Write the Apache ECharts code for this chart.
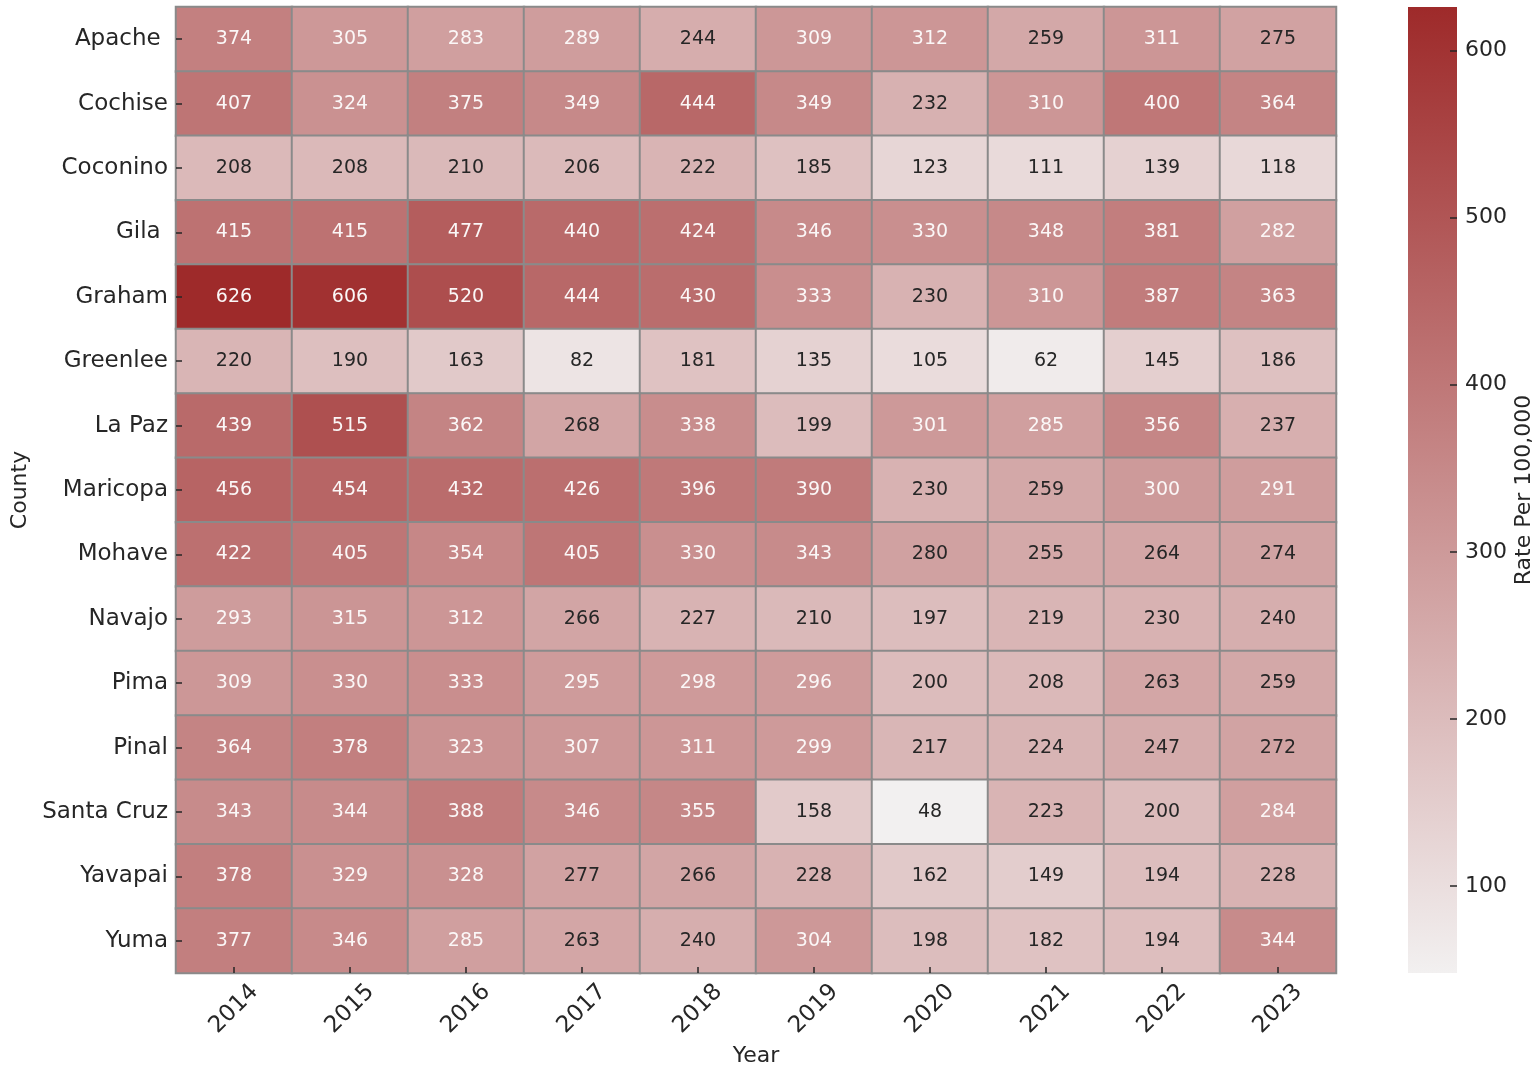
<!DOCTYPE html>
<html>
<head>
<meta charset="utf-8">
<title>County Rate Per 100,000 by Year</title>
<script src="https://cdn.jsdelivr.net/npm/echarts@6/dist/echarts.min.js"></script>
<style>
  html, body { margin: 0; padding: 0; background: #ffffff; }
  #chart { width: 1538px; height: 1069px; }
</style>
</head>
<body>
<div id="chart"></div>
<script>
// Year columns and county rows
const years = ['2014', '2015', '2016', '2017', '2018', '2019', '2020', '2021', '2022', '2023'];
const counties = ['Apache ', 'Cochise', 'Coconino', 'Gila ', 'Graham', 'Greenlee', 'La Paz', 'Maricopa',
  'Mohave', 'Navajo', 'Pima', 'Pinal', 'Santa Cruz', 'Yavapai', 'Yuma'];

// Rate per 100,000, one array per county (2014 -> 2023)
const apache    = [374, 305, 283, 289, 244, 309, 312, 259, 311, 275];
const cochise   = [407, 324, 375, 349, 444, 349, 232, 310, 400, 364];
const coconino  = [208, 208, 210, 206, 222, 185, 123, 111, 139, 118];
const gila      = [415, 415, 477, 440, 424, 346, 330, 348, 381, 282];
const graham    = [626, 606, 520, 444, 430, 333, 230, 310, 387, 363];
const greenlee  = [220, 190, 163, 82, 181, 135, 105, 62, 145, 186];
const laPaz     = [439, 515, 362, 268, 338, 199, 301, 285, 356, 237];
const maricopa  = [456, 454, 432, 426, 396, 390, 230, 259, 300, 291];
const mohave    = [422, 405, 354, 405, 330, 343, 280, 255, 264, 274];
const navajo    = [293, 315, 312, 266, 227, 210, 197, 219, 230, 240];
const pima      = [309, 330, 333, 295, 298, 296, 200, 208, 263, 259];
const pinal     = [364, 378, 323, 307, 311, 299, 217, 224, 247, 272];
const santaCruz = [343, 344, 388, 346, 355, 158, 48, 223, 200, 284];
const yavapai   = [378, 329, 328, 277, 266, 228, 162, 149, 194, 228];
const yuma      = [377, 346, 285, 263, 240, 304, 198, 182, 194, 344];

// Colour bar tick values
const colorbarTicks = [100, 200, 300, 400, 500, 600];

const rows = [apache, cochise, coconino, gila, graham, greenlee, laPaz, maricopa,
  mohave, navajo, pima, pinal, santaCruz, yavapai, yuma];

const allValues = rows.flat();
const vMin = Math.min(...allValues);
const vMax = Math.max(...allValues);

const LOW = '#f2f0f0';
const HIGH = '#9e2a2a';
const INK = '#262626';
const FONT = 'DejaVu Sans';

// Cells: light text on dark cells, dark text on light cells
const cells = [];
rows.forEach((row, r) => {
  row.forEach((v, c) => {
    cells.push({
      value: [c, r, v],
      label: { color: v > 281 ? '#fbf7f7' : INK }
    });
  });
});

const chart = echarts.init(document.getElementById('chart'), null, { renderer: 'canvas' });

chart.setOption({
  animation: false,
  backgroundColor: '#ffffff',
  textStyle: { fontFamily: FONT, color: INK },
  grid: [
    { left: 176, top: 7, width: 1160, height: 966, outerBoundsMode: 'none', containLabel: false },
    { left: 1408, top: 7, width: 49, height: 966, outerBoundsMode: 'none', containLabel: false }
  ],
  xAxis: [
    {
      type: 'category', gridIndex: 0, data: years, z: 5,
      name: 'Year', nameLocation: 'middle', nameGap: 71,
      nameTextStyle: { fontSize: 22, color: INK, fontFamily: FONT, verticalAlign: 'top' },
      axisLine: { show: false },
      axisTick: { show: true, inside: true, length: 6, alignWithLabel: true, lineStyle: { color: INK, width: 1.5 } },
      axisLabel: {
        rotate: 45, fontSize: 23, color: INK, fontFamily: FONT, margin: 36,
        align: 'center', verticalAlign: 'middle', interval: 0
      },
      splitLine: { show: false }
    },
    {
      type: 'category', gridIndex: 1, data: [''],
      axisLine: { show: false }, axisTick: { show: false }, axisLabel: { show: false }
    }
  ],
  yAxis: [
    {
      type: 'category', gridIndex: 0, data: counties, inverse: true, z: 5,
      name: 'County', nameLocation: 'middle', nameGap: 154, nameRotate: 90,
      nameTextStyle: { fontSize: 22, color: INK, fontFamily: FONT, verticalAlign: 'middle' },
      axisLine: { show: false },
      axisTick: { show: true, inside: true, length: 6, alignWithLabel: true, lineStyle: { color: INK, width: 1.5 } },
      axisLabel: { fontSize: 23, color: INK, fontFamily: FONT, margin: 8, interval: 0 },
      splitLine: { show: false }
    },
    {
      type: 'value', gridIndex: 1, min: vMin, max: vMax, position: 'right', z: 5,
      name: 'Rate Per 100,000', nameLocation: 'middle', nameGap: 67, nameRotate: 90,
      nameTextStyle: { fontSize: 22, color: INK, fontFamily: FONT, verticalAlign: 'middle' },
      axisLine: { show: false },
      axisTick: { show: true, inside: true, length: 7, customValues: colorbarTicks, lineStyle: { color: INK, width: 1.5 } },
      axisLabel: { fontSize: 22, color: INK, fontFamily: FONT, margin: 8, customValues: colorbarTicks },
      splitLine: { show: false }
    }
  ],
  visualMap: {
    show: false, type: 'continuous', seriesIndex: 0, dimension: 2,
    min: vMin, max: vMax,
    inRange: { color: [LOW, HIGH] }
  },
  series: [
    {
      type: 'heatmap', xAxisIndex: 0, yAxisIndex: 0,
      data: cells,
      label: { show: true, fontSize: 19, fontFamily: FONT, formatter: p => String(p.value[2]) },
      itemStyle: { borderColor: '#8a8a8a', borderWidth: 2 },
      emphasis: { disabled: true }
    },
    // Colour bar: transparent base up to the minimum, gradient from minimum to maximum
    {
      type: 'bar', xAxisIndex: 1, yAxisIndex: 1, stack: 'cb', barWidth: '100%',
      data: [vMin], itemStyle: { color: 'rgba(0,0,0,0)' }, silent: true
    },
    {
      type: 'bar', xAxisIndex: 1, yAxisIndex: 1, stack: 'cb', barWidth: '100%',
      data: [vMax - vMin], silent: true,
      itemStyle: {
        color: new echarts.graphic.LinearGradient(0, 0, 0, 1, [
          { offset: 0, color: HIGH },
          { offset: 1, color: LOW }
        ])
      }
    }
  ]
});
</script>
</body>
</html>
